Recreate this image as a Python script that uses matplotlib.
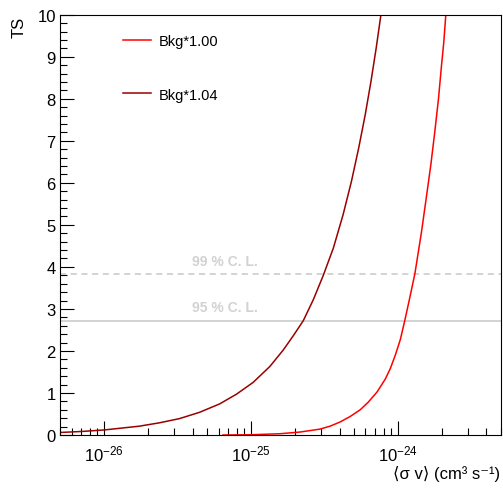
import matplotlib
matplotlib.use('Agg')
import matplotlib.pyplot as plt
from matplotlib.ticker import FixedLocator, LogLocator, MultipleLocator, NullFormatter

plt.rcParams['font.family'] = ['Liberation Sans', 'DejaVu Sans']
plt.rcParams['mathtext.fontset'] = 'custom'
plt.rcParams['mathtext.rm'] = 'Liberation Sans'

# TS vs <sigma v>
sv_104 = [5.0e-27, 7.1e-27, 1.0e-26, 1.735e-26, 2.376e-26, 3.254e-26, 4.458e-26, 6.107e-26,
          7.94e-26, 1.031e-25, 1.341e-25, 1.653e-25, 1.935e-25, 2.265e-25, 2.651e-25,
          3.101e-25, 3.631e-25, 4.226e-25, 4.815e-25, 5.40e-25, 5.98e-25, 6.543e-25,
          7.104e-25, 7.65e-25]
ts_104 = [0.06, 0.085, 0.12, 0.21, 0.29, 0.39, 0.54, 0.74,
          0.97, 1.25, 1.63, 2.02, 2.36, 2.72, 3.22,
          3.80, 4.45, 5.24, 6.03, 6.83, 7.62, 8.41,
          9.21, 10.0]

sv_100 = [6.43e-26, 9.79e-26, 1.57e-25, 2.15e-25, 2.94e-25, 3.446e-25, 4.034e-25,
          4.722e-25, 5.527e-25, 6.266e-25, 7.186e-25, 8.189e-25, 8.859e-25, 9.584e-25,
          1.0368e-24, 1.1094e-24, 1.1945e-24, 1.3027e-24, 1.4431e-24, 1.5537e-24,
          1.6755e-24, 1.7789e-24, 1.8857e-24, 1.9767e-24, 2.0495e-24, 2.115e-24]
ts_100 = [0.0, 0.005, 0.03, 0.07, 0.14, 0.21, 0.31,
          0.44, 0.60, 0.78, 1.02, 1.33, 1.58, 1.90,
          2.27, 2.71, 3.22, 3.84, 4.82, 5.62,
          6.45, 7.21, 8.0, 8.79, 9.35, 10.0]

cl_levels = [2.71, 3.84]
cl_labels = ['95 % C. L.', '99 % C. L.']

fig = plt.figure(figsize=(5.03, 4.89), dpi=100)
ax = fig.add_axes([60 / 503, 53 / 489, 440.7 / 503, 420.3 / 489])

ax.axhline(cl_levels[0], color='#c8c8c8', lw=1.1)
ax.axhline(cl_levels[1], color='#c8c8c8', lw=1.1, dashes=(4, 3))
ax.text(3.93e-26, 3.04, cl_labels[0], color='#d2d2d2', fontsize=10, fontweight='bold', va='center')
ax.text(3.93e-26, 4.14, cl_labels[1], color='#d2d2d2', fontsize=10, fontweight='bold', va='center')

ax.plot(sv_100, ts_100, color='#ff0000', lw=1.1, label='Bkg*1.00')
ax.plot(sv_104, ts_104, color='#990000', lw=1.1, label='Bkg*1.04')

ax.set_xscale('log')
ax.set_xlim(5e-27, 5e-24)
ax.set_ylim(0, 10)

ax.xaxis.set_major_locator(FixedLocator([1e-26, 1e-25, 1e-24]))
ax.xaxis.set_minor_locator(LogLocator(base=10, subs=range(2, 10), numticks=20))
ax.xaxis.set_minor_formatter(NullFormatter())
ax.yaxis.set_major_locator(MultipleLocator(1))
ax.yaxis.set_minor_locator(MultipleLocator(0.2))
ax.tick_params(which='both', direction='in', top=False, right=False, labelsize=12, width=0.8)
ax.tick_params(which='major', length=10)
ax.tick_params(which='minor', length=5)
ax.tick_params(axis='x', pad=6)
ax.tick_params(axis='y', pad=3)

fig.text(19 / 503, 1 - 17 / 489, 'TS', rotation=90, ha='center', va='top', fontsize=12)
fig.text(500 / 503, 1 - 474 / 489, '⟨σ v⟩ (cm³ s⁻¹)', ha='right', va='center', fontsize=12)

ax.legend(loc='upper left', bbox_to_anchor=(0.113, 0.985), frameon=False, fontsize=10.5,
          handlelength=1.95, labelspacing=2.7, handletextpad=0.5)

fig.savefig('out.png', dpi=100)
